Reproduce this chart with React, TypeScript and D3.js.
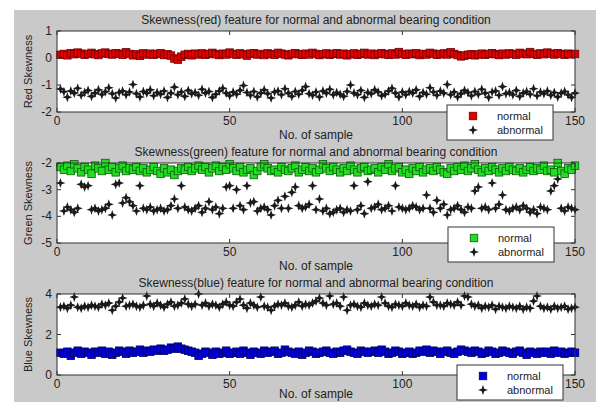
import React from 'react';
import * as d3 from 'd3';

// sample index 1..150
const samples = d3.range(1, 151);

const redNormal = [
  0.12, 0.15, 0.10, 0.18, 0.14, 0.20, 0.16, 0.12, 0.15, 0.19,
  0.14, 0.11, 0.17, 0.20, 0.15, 0.13, 0.18, 0.16, 0.12, 0.21,
  0.15, 0.10, 0.14, 0.08, 0.17, 0.13, 0.16, 0.12, 0.15, 0.18,
  0.11, 0.14, 0.09, -0.02, -0.06, 0.05, 0.12, 0.15, 0.10, 0.16,
  0.13, 0.17, 0.12, 0.15, 0.19, 0.14, 0.11, 0.16, 0.13, 0.20,
  0.15, 0.12, 0.17, 0.14, 0.09, 0.16, 0.18, 0.13, 0.15, 0.11,
  0.17, 0.14, 0.12, 0.19, 0.16, 0.13, 0.10, 0.15, 0.18, 0.14,
  0.12, 0.16, 0.13, 0.19, 0.15, 0.11, 0.14, 0.17, 0.12, 0.15,
  0.18, 0.13, 0.16, 0.10, 0.14, 0.17, 0.12, 0.15, 0.19, 0.13,
  0.16, 0.11, 0.15, 0.18, 0.14, 0.12, 0.17, 0.13, 0.22, 0.15,
  0.12, 0.16, 0.14, 0.18, 0.11, 0.15, 0.13, 0.19, 0.16, 0.12,
  0.14, 0.17, 0.13, 0.21, 0.15, 0.11, 0.06, 0.09, 0.12, 0.14,
  0.10, 0.13, 0.16, 0.12, 0.15, 0.18, 0.14, 0.11, 0.16, 0.13,
  0.17, 0.15, 0.12, 0.19, 0.16, 0.14, 0.22, 0.15, 0.12, 0.17,
  0.14, 0.20, 0.16, 0.13, 0.18, 0.15, 0.12, 0.16, 0.14, 0.15,
];

const redAbnormal = [
  -1.15, -1.25, -1.45, -1.22, -1.30, -1.12, -1.38, -1.28, -1.20, -1.42,
  -1.30, -1.18, -1.35, -1.25, -1.10, -1.32, -1.48, -1.28, -1.22, -1.36,
  -1.26, -0.98, -1.32, -1.44, -1.24, -1.30, -1.18, -1.40, -1.28, -1.34,
  -1.22, -1.46, -1.30, -1.08, -1.36, -1.26, -1.42, -1.20, -1.32, -1.28,
  -1.38, -1.16, -1.30, -1.24, -1.46, -1.34, -1.22, -1.12, -1.30, -1.40,
  -1.26, -1.34, -1.20, -1.02, -1.28, -1.38, -1.24, -1.44, -1.30, -1.18,
  -1.32, -1.48, -1.26, -1.22, -1.36, -1.14, -1.30, -1.42, -1.24, -1.34,
  -1.20, -1.06, -1.32, -1.38, -1.26, -1.44, -1.22, -1.30, -1.16, -1.36,
  -1.28, -1.34, -1.42, -1.24, -1.00, -1.30, -1.36, -1.20, -1.46, -1.28,
  -1.32, -1.18, -1.26, -1.40, -1.34, -1.22, -1.12, -1.30, -1.44, -1.26,
  -1.36, -1.24, -1.30, -1.18, -1.42, -1.28, -1.34, -1.10, -1.26, -1.38,
  -1.22, -1.30, -0.98, -1.36, -1.26, -1.44, -1.32, -1.20, -1.28, -1.40,
  -1.24, -1.34, -1.16, -1.30, -1.46, -1.26, -1.22, -1.38, -1.06, -1.32,
  -1.28, -1.36, -1.20, -1.42, -1.30, -1.24, -1.34, -1.14, -1.40, -1.26,
  -1.32, -1.22, -1.38, -1.28, -1.44, -1.30, -1.24, -1.36, -1.46, -1.30,
];

const greenNormal = [
  -2.15, -2.25, -2.10, -2.30, -2.05, -2.20, -2.35, -2.15, -2.25, -2.40,
  -2.10, -2.20, -2.30, -2.00, -2.25, -2.15, -2.35, -2.20, -2.10, -2.30,
  -2.20, -2.25, -2.15, -2.30, -2.20, -2.35, -2.25, -2.15, -2.30, -2.40,
  -2.20, -2.35, -2.25, -2.45, -2.30, -2.20, -2.25, -2.15, -2.30, -2.20,
  -2.10, -2.25, -2.15, -2.35, -2.20, -2.10, -2.30, -2.15, -2.25, -2.05,
  -2.20, -2.30, -2.15, -2.35, -2.25, -2.20, -2.45, -2.30, -2.15, -2.05,
  -2.20, -2.30, -2.25, -2.35, -2.15, -2.25, -2.30, -2.20, -2.10, -2.35,
  -2.25, -2.15, -2.30, -2.20, -2.35, -2.25, -2.05, -2.20, -2.30, -2.15,
  -2.25, -2.35, -2.20, -2.30, -2.10, -2.25, -2.35, -2.20, -2.15, -2.30,
  -2.25, -2.20, -2.35, -2.15, -2.25, -2.05, -2.30, -2.20, -2.15, -2.35,
  -2.25, -2.40, -2.20, -2.30, -2.15, -2.35, -2.25, -2.20, -2.30, -2.15,
  -2.25, -2.35, -2.40, -2.20, -2.30, -2.15, -2.25, -2.10, -2.30, -2.20,
  -2.05, -2.25, -2.35, -2.20, -2.30, -2.15, -2.25, -2.35, -2.20, -2.30,
  -2.15, -2.25, -2.30, -2.20, -2.35, -2.25, -2.15, -2.30, -2.20, -2.25,
  -2.10, -2.30, -2.25, -2.35, -2.00, -2.30, -2.40, -2.20, -2.25, -2.10,
];

const greenAbnormal = [
  -2.75, -3.80, -3.65, -3.75, -3.85, -3.70, -2.80, -2.90, -2.85, -3.75,
  -3.70, -3.80, -3.75, -3.70, -3.55, -3.95, -2.80, -2.75, -3.50, -3.30,
  -3.45, -3.60, -3.80, -2.85, -3.70, -3.75, -3.65, -3.80, -3.75, -3.70,
  -3.80, -3.75, -3.60, -3.35, -3.70, -2.85, -3.65, -3.75, -3.80, -3.70,
  -3.60, -3.85, -3.70, -3.45, -3.75, -3.65, -3.90, -3.70, -2.90, -2.85,
  -3.70, -3.00, -3.60, -3.75, -2.85, -3.50, -3.45, -3.80, -3.70, -3.65,
  -3.75, -3.95, -3.60, -3.40, -3.70, -3.25, -3.70, -3.10, -2.90, -3.60,
  -3.70, -3.65, -3.55, -2.85, -3.75, -3.35, -3.80, -3.70, -3.90, -3.85,
  -3.75, -3.70, -3.85, -3.75, -3.80, -2.85, -3.75, -3.60, -3.90, -2.70,
  -3.70, -3.65, -3.55, -3.75, -3.70, -3.60, -3.80, -2.85, -3.65, -3.70,
  -3.75, -3.70, -3.60, -3.65, -3.75, -3.70, -3.20, -3.70, -3.85, -3.40,
  -3.70, -3.55, -3.95, -3.75, -3.70, -3.60, -3.75, -3.85, -3.65, -3.70,
  -3.05, -2.90, -3.70, -3.65, -3.75, -2.75, -3.70, -3.55, -3.20, -3.75,
  -3.80, -3.70, -3.65, -3.75, -3.60, -3.70, -3.85, -3.75, -3.90, -3.65,
  -3.70, -3.75, -3.05, -2.85, -2.60, -3.70, -3.80, -3.65, -3.70, -3.75,
];

const blueNormal = [
  1.10, 1.05, 1.15, 0.95, 1.10, 1.20, 1.05, 1.15, 1.10, 1.00,
  1.15, 1.10, 1.20, 1.05, 1.15, 1.00, 1.10, 1.20, 1.15, 1.05,
  1.20, 1.10, 1.15, 1.25, 1.10, 1.20, 1.15, 1.25, 1.20, 1.30,
  1.20, 1.25, 1.35, 1.30, 1.40, 1.30, 1.25, 1.20, 1.15, 1.10,
  0.95, 1.05, 1.15, 1.10, 1.00, 1.15, 1.05, 1.10, 1.20, 1.05,
  1.10, 1.15, 1.05, 1.20, 1.10, 1.00, 1.15, 1.10, 1.05, 1.20,
  1.10, 1.15, 1.20, 1.05, 1.10, 1.25, 1.15, 1.10, 1.05, 1.15,
  1.00, 1.10, 1.20, 1.15, 1.05, 1.10, 1.15, 1.20, 1.10, 1.05,
  1.15, 1.10, 1.20, 1.25, 1.15, 1.10, 1.05, 1.20, 1.15, 1.10,
  1.15, 1.20, 1.10, 1.25, 1.15, 1.05, 1.10, 1.20, 1.15, 1.05,
  1.10, 1.15, 1.05, 1.10, 1.20, 1.15, 1.25, 1.10, 1.20, 1.15,
  1.05, 1.15, 1.20, 1.10, 1.05, 1.15, 1.25, 1.20, 1.15, 1.10,
  1.20, 1.15, 1.05, 1.10, 1.20, 1.15, 1.05, 1.10, 1.20, 1.15,
  1.10, 1.05, 1.15, 1.20, 1.10, 1.00, 1.15, 1.10, 1.05, 1.15,
  1.10, 1.15, 1.05, 1.20, 1.10, 1.15, 1.05, 1.10, 1.15, 1.10,
];

const blueAbnormal = [
  3.35, 3.40, 3.30, 3.45, 3.85, 3.35, 3.30, 3.40, 3.35, 3.45,
  3.40, 3.35, 3.50, 3.45, 3.55, 3.20, 3.40, 3.60, 3.80, 3.40,
  3.45, 3.50, 3.40, 3.35, 3.45, 3.90, 3.50, 3.40, 3.55, 3.45,
  3.35, 3.50, 3.60, 3.40, 3.45, 3.55, 3.75, 3.50, 3.40, 3.50,
  4.00, 3.45, 3.55, 3.40, 3.50, 3.45, 3.35, 3.50, 3.60, 3.45,
  3.40, 3.60, 3.75, 3.45, 3.30, 3.55, 3.45, 3.35, 3.85, 3.40,
  3.35, 3.20, 3.40, 3.50, 3.45, 3.55, 3.40, 3.35, 3.45, 3.60,
  3.40, 3.50, 3.45, 3.55, 3.65, 3.80, 3.55, 3.45, 3.90, 3.50,
  3.55, 3.40, 3.85, 3.20, 3.45, 3.50, 3.40, 3.35, 3.55, 3.45,
  3.40, 3.50, 3.45, 3.85, 3.55, 3.40, 3.35, 3.50, 3.45, 3.40,
  3.55, 3.45, 3.40, 3.50, 3.35, 3.45, 3.40, 3.85, 3.60, 3.45,
  3.45, 3.40, 3.55, 3.50, 3.45, 3.60, 3.45, 3.90, 3.85, 3.50,
  3.40, 3.45, 3.30, 3.40, 3.35, 3.45, 3.25, 3.40, 3.35, 3.30,
  3.40, 3.35, 3.30, 3.40, 3.25, 3.35, 3.30, 3.65, 3.90, 3.40,
  3.30, 3.35, 3.25, 3.40, 3.30, 3.35, 3.40, 3.25, 3.30, 3.35,
];

const xTicks = [0, 50, 100, 150];
const legendLabels = ['normal', 'abnormal'];

const font = 'Arial, "Liberation Sans", sans-serif';
const left = 57;
const right = 575;

// 4-point star used for the abnormal marker
const starPath = 'M0,-5L1.3,-1.3L5,0L1.3,1.3L0,5L-1.3,1.3L-5,0L-1.3,-1.3Z';

interface PanelProps {
  top: number;
  bottom: number;
  title: string;
  ylabel: string;
  domain: [number, number];
  yTicks: number[];
  normal: number[];
  abnormal: number[];
  fill: string;
  edge: string;
  legendX: number;
  legendY: number;
  xlabelDy?: number;
}

const Panel = ({ top, bottom, title, ylabel, domain, yTicks, normal, abnormal, fill, edge, legendX, legendY, xlabelDy = 27 }: PanelProps) => {
  const x = d3.scaleLinear().domain([0, 150]).range([left, right]);
  const y = d3.scaleLinear().domain(domain).range([bottom, top]);
  const tk = 4;
  const sq = 7.5;

  return (
    <g>
      <rect x={left} y={top} width={right - left} height={bottom - top} fill="#fff" />
      <text x={(left + right) / 2} y={top - 7} textAnchor="middle" fontSize={12} fontFamily={font} fill="#222">{title}</text>

      {/* abnormal first, normal on top */}
      {abnormal.map((v, i) => (
        <path key={'a' + i} d={starPath} transform={`translate(${x(samples[i])},${y(v)})`} fill="#1a1a1a" />
      ))}
      {normal.map((v, i) => (
        <rect key={'n' + i} x={x(samples[i]) - sq / 2} y={y(v) - sq / 2} width={sq} height={sq} fill={fill} stroke={edge} strokeWidth={0.8} />
      ))}

      <rect x={left} y={top} width={right - left} height={bottom - top} fill="none" stroke="#333" strokeWidth={1} />

      {xTicks.map((t) => (
        <g key={'x' + t}>
          <line x1={x(t)} x2={x(t)} y1={bottom} y2={bottom - tk} stroke="#333" />
          <line x1={x(t)} x2={x(t)} y1={top} y2={top + tk} stroke="#333" />
          <text x={x(t)} y={bottom + 13} textAnchor="middle" fontSize={12} fontFamily={font} fill="#222">{t}</text>
        </g>
      ))}
      {yTicks.map((t) => (
        <g key={'y' + t}>
          <line x1={left} x2={left + tk} y1={y(t)} y2={y(t)} stroke="#333" />
          <line x1={right} x2={right - tk} y1={y(t)} y2={y(t)} stroke="#333" />
          <text x={52} y={y(t) + 4} textAnchor="end" fontSize={12} fontFamily={font} fill="#222">{t}</text>
        </g>
      ))}

      <text x={(left + right) / 2} y={bottom + xlabelDy} textAnchor="middle" fontSize={12} fontFamily={font} fill="#222">No. of sample</text>
      <text transform={`translate(32,${(top + bottom) / 2}) rotate(-90)`} textAnchor="middle" fontSize={11} fontFamily={font} fill="#222">{ylabel}</text>

      <g transform={`translate(${legendX},${legendY})`}>
        <rect x={0} y={0} width={106} height={35} fill="#fff" stroke="#333" strokeWidth={1} />
        <rect x={26 - sq / 2} y={11 - sq / 2} width={sq} height={sq} fill={fill} stroke={edge} strokeWidth={0.8} />
        <path d={starPath} transform="translate(26,25)" fill="#1a1a1a" />
        {legendLabels.map((l, i) => (
          <text key={l} x={50} y={15 + i * 14} fontSize={11} fontFamily={font} fill="#222">{l}</text>
        ))}
      </g>
    </g>
  );
};

export default function App() {
  return (
    <svg width={596} height={402} style={{ position: 'absolute', left: 0, top: 0, background: '#fff' }}>
      <rect x={14} y={10} width={582} height={392} fill="#c9c9c9" />
      <Panel top={31} bottom={112} title="Skewness(red) feature for normal and abnormal bearing condition"
        ylabel="Red Skewness" domain={[-2, 1]} yTicks={[1, 0, -1, -2]}
        normal={redNormal} abnormal={redAbnormal} fill="#e00000" edge="#700000" legendX={447} legendY={105} />
      <Panel top={163} bottom={243} title="Skewness(green) feature for normal and abnormal bearing condition"
        ylabel="Green Skewness" domain={[-5, -2]} yTicks={[-2, -3, -4, -5]}
        normal={greenNormal} abnormal={greenAbnormal} fill="#22dd22" edge="#0a5a0a" legendX={448} legendY={227} />
      <Panel top={294} bottom={375} title="Skewness(blue) feature for normal and abnormal bearing condition"
        ylabel="Blue Skewness" domain={[0, 4]} yTicks={[4, 2, 0]}
        normal={blueNormal} abnormal={blueAbnormal} fill="#0000dd" edge="#000060" legendX={457} legendY={365} xlabelDy={23} />
    </svg>
  );
}
